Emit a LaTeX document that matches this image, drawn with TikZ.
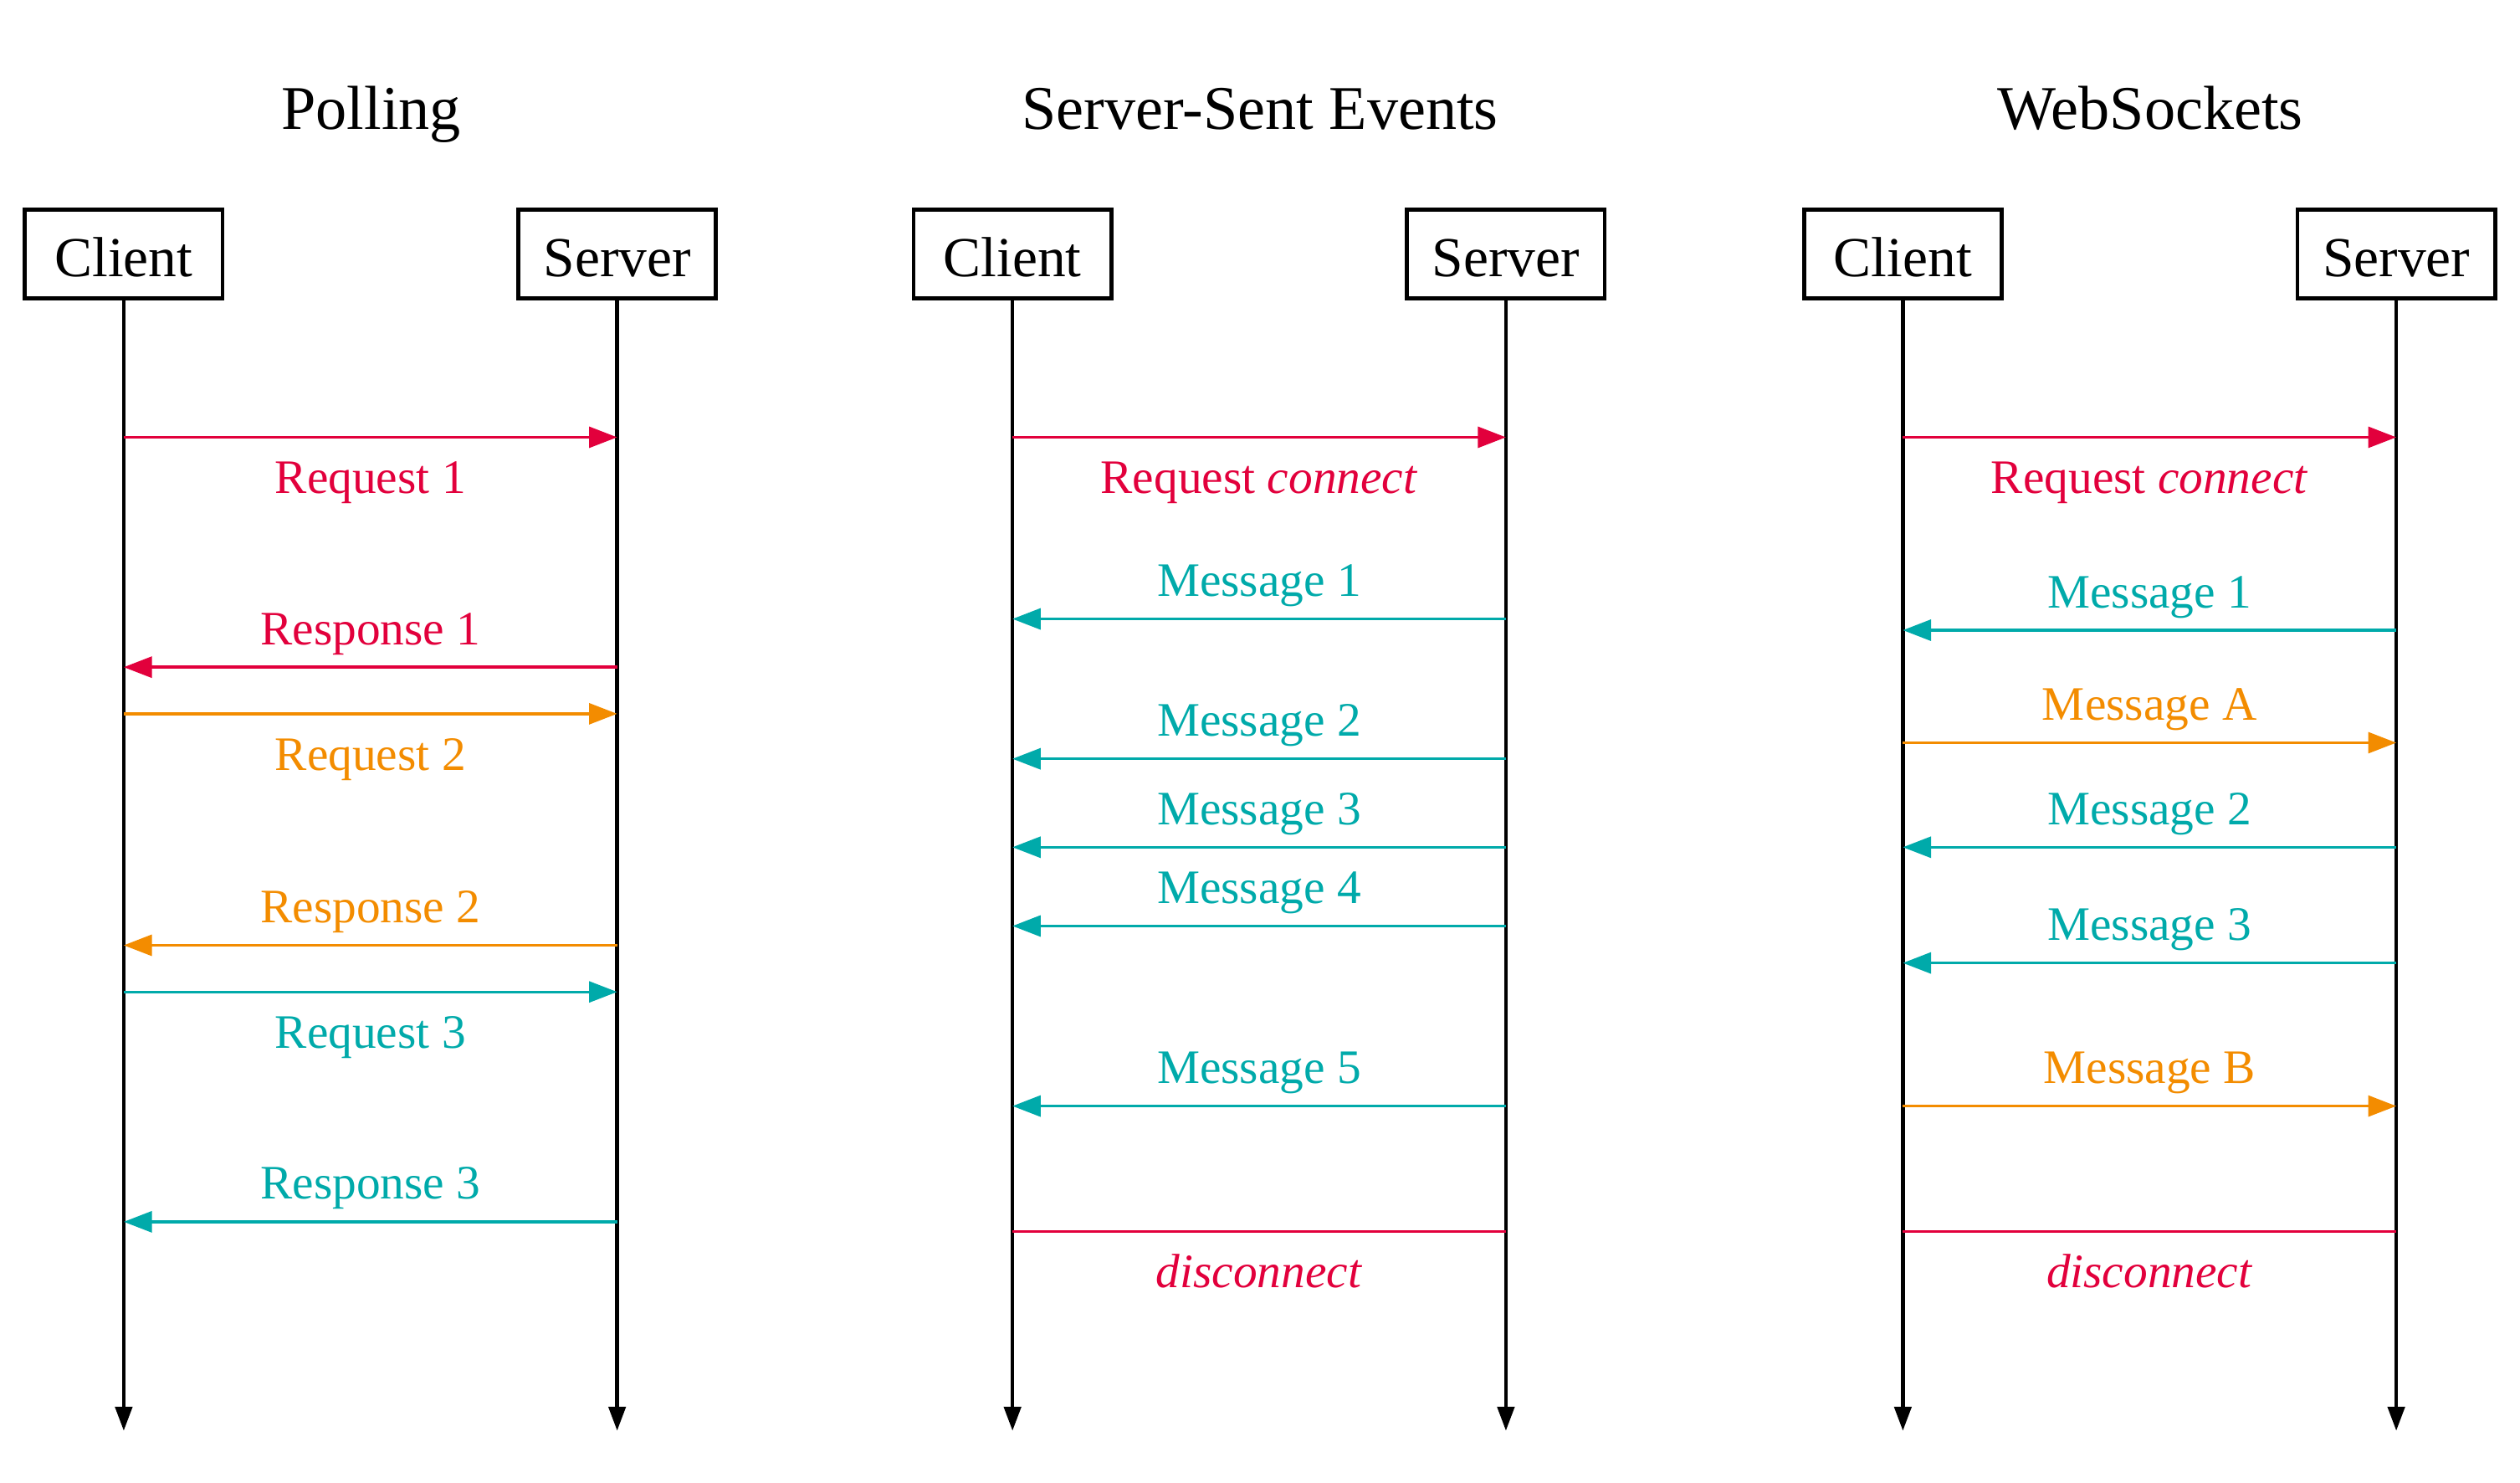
\documentclass[tikz,border=0pt]{standalone}
\usepackage{fontspec}
\setmainfont{Liberation Serif}
\usetikzlibrary{arrows.meta}
\definecolor{reqred}{RGB}{226,0,60}
\definecolor{msgteal}{RGB}{0,170,170}
\definecolor{msgorange}{RGB}{243,140,0}
\begin{document}
\begin{tikzpicture}[x=0.02cm,y=-0.02cm,
    actor/.style={draw,line width=1.4pt,minimum width=2.46cm,minimum height=1.1cm,
        text height=16pt,text depth=0pt,font=\fontsize{20}{24}\selectfont},
    title/.style={text height=16.5pt,text depth=5.5pt,font=\fontsize{22}{26}\selectfont},
    life/.style={line width=1.3pt,-{Triangle[length=0.3cm,width=0.21cm]}},
    msg/.style={line width=1pt,-{Triangle[length=0.35cm,width=0.26cm]}},
    lbl/.style={text height=12.75pt,text depth=4.25pt,font=\fontsize{17}{20}\selectfont}]
    \useasboundingbox (0,0) rectangle (1568,922);
    % titles
    \node[title] (tpoll) at (231,71) {Polling};
    \node[title] (tsse) at (784,71) {Server-Sent Events};
    \node[title] (tws) at (1338,71) {WebSockets};
    % actors and lifelines
    \foreach \p/\cx/\sx in {p/77/384,s/630/937,w/1184/1491}{
        \node[actor] (\p c) at (\cx,158) {Client};
        \node[actor] (\p s) at (\sx,158) {Server};
        \coordinate (\p cend) at (\cx,890);
        \coordinate (\p send) at (\sx,890);
        \draw[life] (\p c) -- (\p cend);
        \draw[life] (\p s) -- (\p send);
    }
    % polling
    \foreach \y/\a/\b/\c/\t/\s in {272/pc/ps/reqred/Request 1/-0.55cm,
        415/ps/pc/reqred/Response 1/0.43cm,
        444/pc/ps/msgorange/Request 2/-0.55cm,
        588/ps/pc/msgorange/Response 2/0.43cm,
        617/pc/ps/msgteal/Request 3/-0.55cm,
        760/ps/pc/msgteal/Response 3/0.43cm}
        \draw[msg,\c] (\a |- 0,\y) -- (\b |- 0,\y) node[lbl,midway,yshift=\s] {\t};
    % server-sent events
    \foreach \y/\a/\b/\c/\t/\s in {272/sc/ss/reqred/Request \textit{connect}/-0.55cm,
        385/ss/sc/msgteal/Message 1/0.43cm,
        472/ss/sc/msgteal/Message 2/0.43cm,
        527/ss/sc/msgteal/Message 3/0.43cm,
        576/ss/sc/msgteal/Message 4/0.43cm,
        688/ss/sc/msgteal/Message 5/0.43cm}
        \draw[msg,\c] (\a |- 0,\y) -- (\b |- 0,\y) node[lbl,midway,yshift=\s] {\t};
    \draw[msg,-,reqred] (sc |- 0,766) -- (ss |- 0,766) node[lbl,midway,yshift=-0.55cm] {\textit{disconnect}};
    % websockets
    \foreach \y/\a/\b/\c/\t/\s in {272/wc/ws/reqred/Request \textit{connect}/-0.55cm,
        392/ws/wc/msgteal/Message 1/0.43cm,
        462/wc/ws/msgorange/Message A/0.43cm,
        527/ws/wc/msgteal/Message 2/0.43cm,
        599/ws/wc/msgteal/Message 3/0.43cm,
        688/wc/ws/msgorange/Message B/0.43cm}
        \draw[msg,\c] (\a |- 0,\y) -- (\b |- 0,\y) node[lbl,midway,yshift=\s] {\t};
    \draw[msg,-,reqred] (wc |- 0,766) -- (ws |- 0,766) node[lbl,midway,yshift=-0.55cm] {\textit{disconnect}};
\end{tikzpicture}
\end{document}
